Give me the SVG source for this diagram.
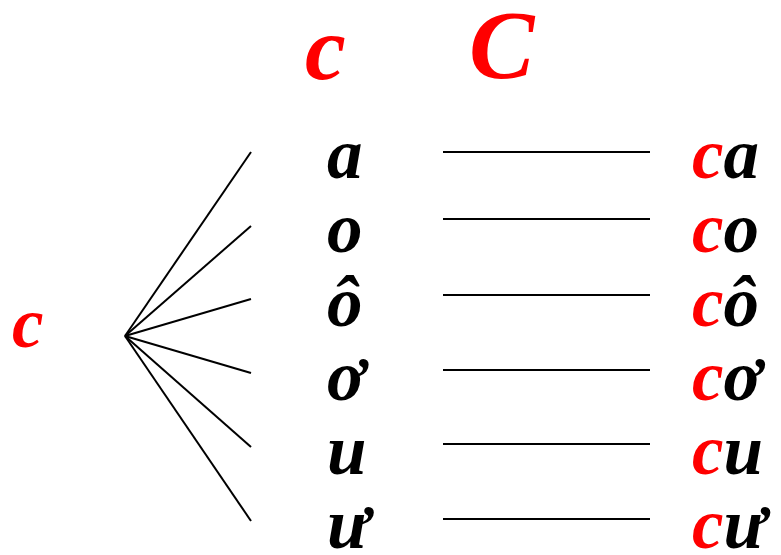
<svg xmlns="http://www.w3.org/2000/svg" width="781" height="555" viewBox="0 0 781 555">
<style>
text{font-family:"Liberation Serif","Times New Roman",serif;font-weight:bold;font-style:italic;}
.r{fill:#ff0000}
.k{fill:#000}
.hc{font-size:92px}
.hC{font-size:98px}
.m{font-size:71px}
line{stroke:#000;stroke-width:2}
</style>
<rect width="781" height="555" fill="#fff"/>
<g id="header">
<text class="r hc" x="305" y="79">c</text>
<text class="r hC" x="469" y="78">C</text>
</g>
<g id="root"><text class="r m" x="12" y="347">c</text></g>
<g id="connectors">
<line x1="125" y1="336" x2="251" y2="152"/>
<line x1="125" y1="336" x2="251" y2="226"/>
<line x1="125" y1="336" x2="251" y2="299"/>
<line x1="125" y1="336" x2="251" y2="373"/>
<line x1="125" y1="336" x2="251" y2="447"/>
<line x1="125" y1="336" x2="251" y2="521"/>
<line x1="443" y1="152" x2="650" y2="152"/>
<line x1="443" y1="219" x2="650" y2="219"/>
<line x1="443" y1="295" x2="650" y2="295"/>
<line x1="443" y1="370" x2="650" y2="370"/>
<line x1="443" y1="444" x2="650" y2="444"/>
<line x1="443" y1="519" x2="650" y2="519"/>
</g>
<g id="vowels">
<text class="k m" x="327" y="178">a</text>
<text class="k m" x="327" y="252">o</text>
<text class="k m" x="327" y="326">ô</text>
<text class="k m" x="327" y="400">ơ</text>
<text class="k m" x="327" y="474">u</text>
<text class="k m" x="327" y="548">ư</text>
</g>
<g id="syllables">
<text class="m" x="692" y="178"><tspan class="r">c</tspan><tspan class="k">a</tspan></text>
<text class="m" x="692" y="252"><tspan class="r">c</tspan><tspan class="k">o</tspan></text>
<text class="m" x="692" y="326"><tspan class="r">c</tspan><tspan class="k">ô</tspan></text>
<text class="m" x="692" y="400"><tspan class="r">c</tspan><tspan class="k">ơ</tspan></text>
<text class="m" x="692" y="474"><tspan class="r">c</tspan><tspan class="k">u</tspan></text>
<text class="m" x="692" y="548"><tspan class="r">c</tspan><tspan class="k">ư</tspan></text>
</g>
</svg>
